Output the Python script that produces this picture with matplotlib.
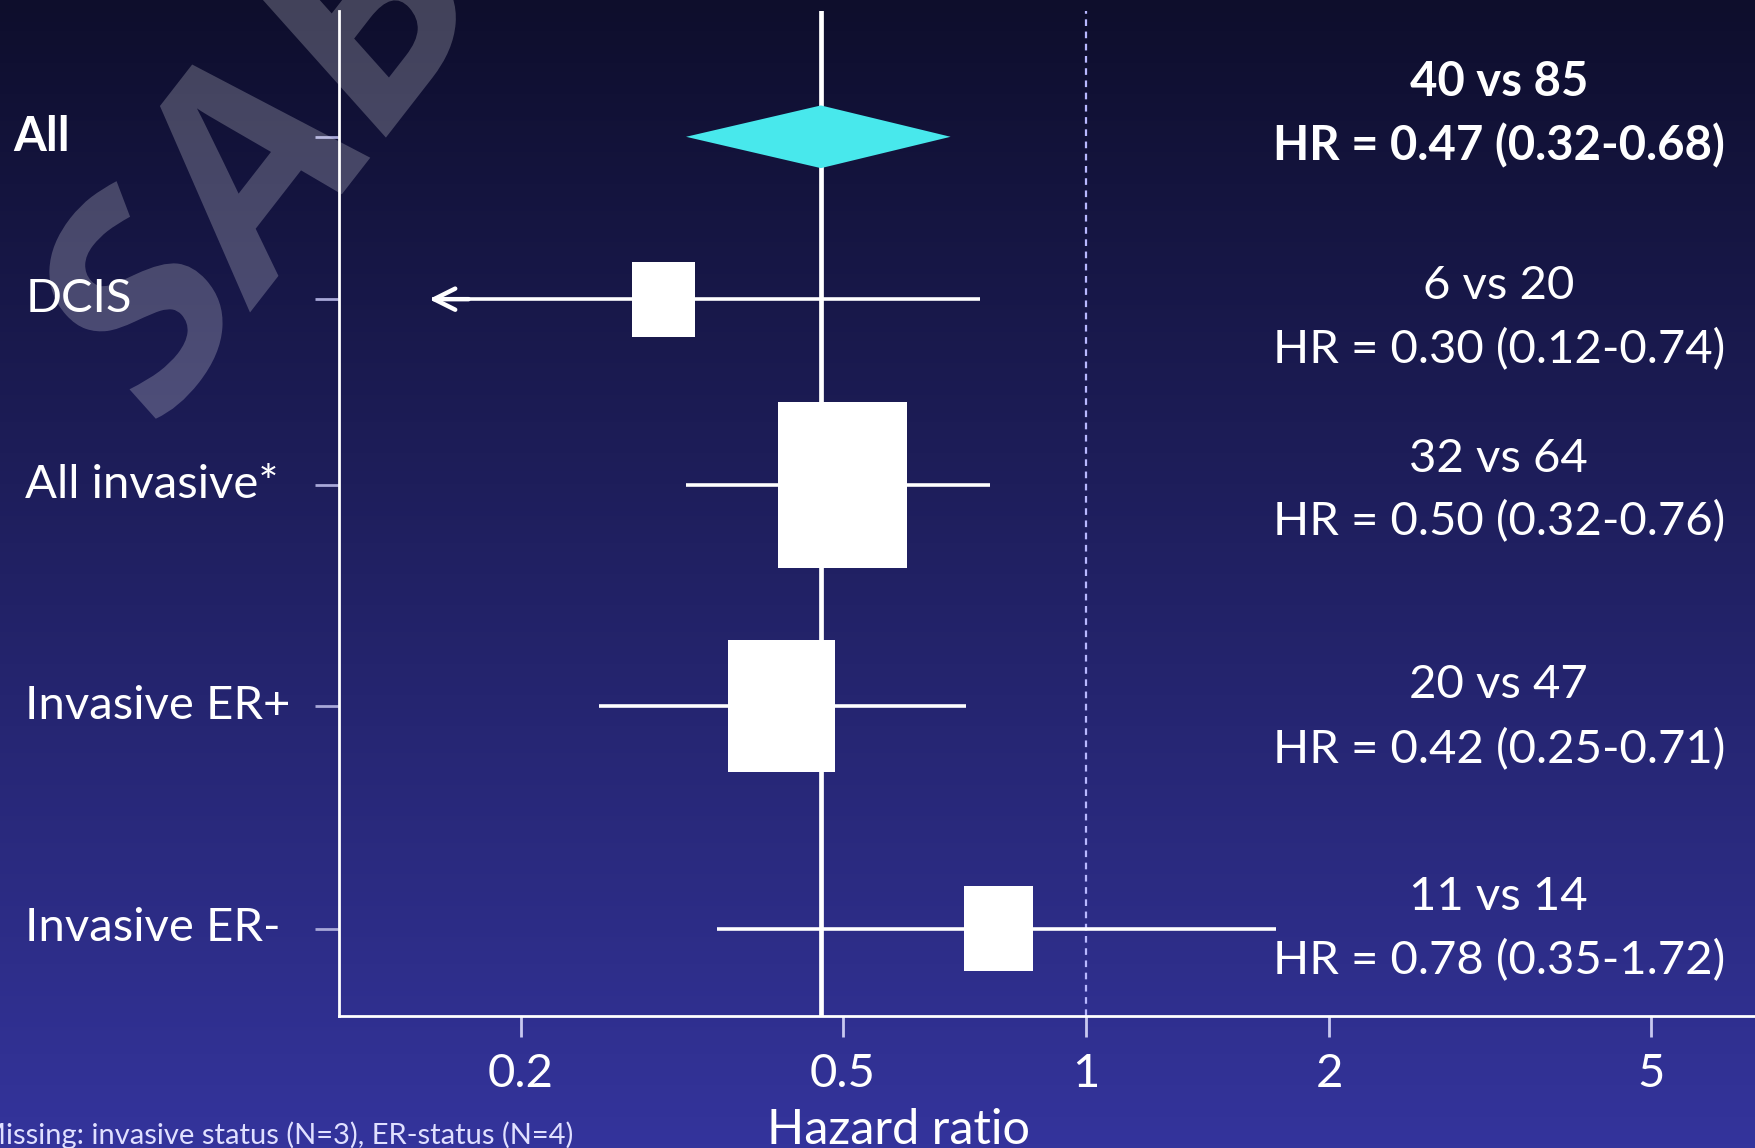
import numpy as np
import matplotlib.pyplot as plt
from matplotlib.patches import Rectangle, Polygon, PathPatch
from matplotlib.textpath import TextPath
from matplotlib.font_manager import FontProperties
from matplotlib.transforms import Affine2D

# hazard ratios and 95% CI per subgroup
groups = ["All", "DCIS", "All invasive*", "Invasive ER+", "Invasive ER-"]
events = ["40 vs 85", "6 vs 20", "32 vs 64", "20 vs 47", "11 vs 14"]
hr = [0.47, 0.30, 0.50, 0.42, 0.78]
ci_low = [0.32, 0.12, 0.32, 0.25, 0.35]
ci_high = [0.68, 0.74, 0.76, 0.71, 1.72]
xticks = [0.2, 0.5, 1, 2, 5]
xtick_labels = ["0.2", "0.5", "1", "2", "5"]

# layout (rows drawn top to bottom, y in screen-like units)
rows_y = [122, 267, 433, 630, 829]
box_w = [0, 0.078, 0.160, 0.133, 0.085]   # box width in decades
box_h = [0, 67, 148, 118, 76]
arrow_stop = 0.155                          # where the clipped CI arrow ends

plt.rcParams['font.family'] = ['Lato', 'DejaVu Sans']
fig = plt.figure(figsize=(17.56, 11.48), dpi=100)

# background gradient
bg = fig.add_axes([0, 0, 1, 1], zorder=-10)
top = np.array([14, 14, 44]) / 255
bot = np.array([52, 52, 156]) / 255
t = np.linspace(0, 1, 256)[:, None, None]
grad = top + (bot - top) * t
bg.imshow(np.repeat(grad, 2, axis=1), aspect='auto', extent=[0, 1, 0, 1], origin='upper')
bg.set_axis_off()

ax = fig.add_axes([0.193, 0.1151, 0.807, 0.875])
ax.set_facecolor('none')
ax.set_xscale('log')
ax.set_xlim(0.119, 6.75)
ax.set_ylim(907, 10)

for s in ['top', 'right']:
    ax.spines[s].set_visible(False)
for s in ['left', 'bottom']:
    ax.spines[s].set_color('white')
    ax.spines[s].set_linewidth(2)

# reference lines
ax.axvline(hr[0], color='white', lw=3.4, zorder=2)
ax.axvline(1, color='#b8b8ff', lw=1.6, ls=(0, (3, 2.5)), zorder=2)

for i in range(len(groups)):
    y = rows_y[i]
    if i == 0:
        dia = Polygon([[ci_low[i], y], [hr[i], y - 28], [ci_high[i], y], [hr[i], y + 28]],
                      closed=True, facecolor='#48e8ec', edgecolor='none', zorder=4)
        ax.add_patch(dia)
        continue
    lo = max(ci_low[i], arrow_stop)
    ax.plot([lo, ci_high[i]], [y, y], color='white', lw=2.6, zorder=3, solid_capstyle='butt')
    if ci_low[i] < arrow_stop:
        ax.annotate('', xy=(arrow_stop * 0.985, y), xytext=(arrow_stop * 1.12, y),
                    arrowprops=dict(arrowstyle='->', color='white', lw=3.2,
                                    mutation_scale=38), zorder=3)
    half = box_w[i] / 2
    ax.add_patch(Rectangle((hr[i] * 10 ** (-half), y - box_h[i] / 2),
                           hr[i] * 10 ** half - hr[i] * 10 ** (-half), box_h[i],
                           facecolor='white', edgecolor='none', zorder=4))

ax.set_xticks(xticks)
ax.set_xticklabels(xtick_labels)
ax.xaxis.set_minor_locator(plt.NullLocator())
ax.tick_params(axis='x', colors='#c8c8f0', length=15, width=2, pad=12,
               labelsize=34, labelcolor='white')
ax.set_yticks(rows_y)
ax.set_yticklabels([])
ax.tick_params(axis='y', colors='#a8a8d8', length=17, width=2)
ax.set_xlabel("Hazard ratio", fontsize=35, color='white')
ax.xaxis.set_label_coords(0.395, -0.092)

# subgroup names
for i, g in enumerate(groups):
    yf = 1 - rows_y[i] * 1.12 / 1148
    fig.text(0.0077 if i == 0 else 0.0145, yf, g, fontsize=34, color='white',
             ha='left', va='center', fontweight='bold' if i == 0 else 'normal')

# events and HR text
row_txt_y = [[73, 130], [255, 312], [410, 466], [612, 669], [801, 858]]
for i in range(len(groups)):
    w = 'bold' if i == 0 else 'normal'
    y1, y2 = row_txt_y[i]
    fig.text(0.8535, 1 - y1 * 1.12 / 1148, events[i], fontsize=34, color='white',
             ha='center', va='center', fontweight=w)
    fig.text(0.8535, 1 - y2 * 1.12 / 1148,
             "HR = %.2f (%.2f-%.2f)" % (hr[i], ci_low[i], ci_high[i]),
             fontsize=34, color='white', ha='center', va='center', fontweight=w)

fig.text(-0.012, 0.0115, "Missing: invasive status (N=3), ER-status (N=4)",
         fontsize=21, color='#e0e0ff', ha='left', va='center')

# watermark across the top-left corner (rotated, a bit stretched vertically)
wm = TextPath((0, 0), "SABCS", size=184,
              prop=FontProperties(family='Open Sans', weight='bold'))
wm_tr = (Affine2D().scale(1 / 72).rotate_deg(47).scale(1, 1.2)
         .translate(1.54, 7.12) + fig.dpi_scale_trans)
fig.add_artist(PathPatch(wm, transform=wm_tr, facecolor='white', edgecolor='none',
                         alpha=0.22, zorder=20))

fig.savefig("out.png", dpi=100)
